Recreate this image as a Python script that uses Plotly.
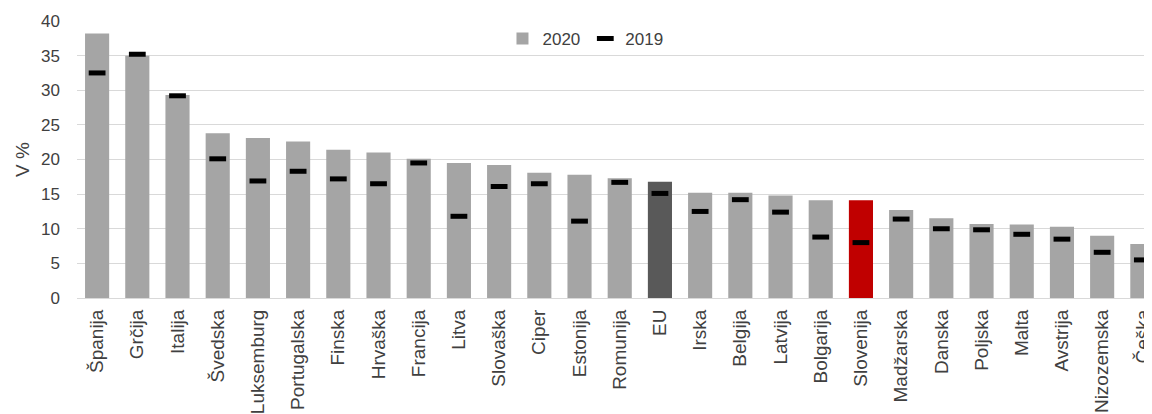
import plotly.graph_objects as go

countries = ["Španija", "Grčija", "Italija", "Švedska", "Luksemburg", "Portugalska", "Finska",
             "Hrvaška", "Francija", "Litva", "Slovaška", "Ciper", "Estonija", "Romunija", "EU",
             "Irska", "Belgija", "Latvija", "Bolgarija", "Slovenija", "Madžarska", "Danska",
             "Poljska", "Malta", "Avstrija", "Nizozemska", "Češka"]
values_2020 = [38.2, 35.0, 29.3, 23.8, 23.1, 22.6, 21.4, 21.0, 20.1, 19.5, 19.2, 18.1, 17.8,
               17.3, 16.8, 15.2, 15.2, 14.8, 14.1, 14.1, 12.7, 11.5, 10.7, 10.6, 10.3, 9.0, 7.8]
values_2019 = [32.5, 35.2, 29.2, 20.1, 16.9, 18.3, 17.2, 16.5, 19.5, 11.8, 16.1, 16.5, 11.1,
               16.7, 15.1, 12.5, 14.2, 12.4, 8.8, 8.0, 11.4, 10.0, 9.85, 9.2, 8.5, 6.6, 5.5]

GREY = "#A5A5A5"
bar_colors = ["#595959" if c == "EU" else "#C00000" if c == "Slovenija" else GREY for c in countries]

FONT = "Liberation Sans, Arial, sans-serif"
TXT = "#404040"
FS = 17

fig = go.Figure()
fig.add_trace(go.Bar(
    x=countries, y=values_2020, name="2020",
    marker=dict(color=bar_colors, line=dict(width=0)),
))
fig.add_trace(go.Scatter(
    x=countries, y=values_2019, name="2019", mode="markers",
    marker=dict(symbol="line-ew", size=12, color="black", line=dict(color="black", width=5)),
))

fig.update_layout(
    width=1144, height=406,
    margin=dict(l=69, r=0, t=13, b=116),
    paper_bgcolor="white", plot_bgcolor="white",
    font=dict(family=FONT, size=FS, color=TXT),
    bargap=0.4,
    showlegend=True,
    legend=dict(orientation="h", x=0.473, xanchor="center", y=0.935, yanchor="middle",
                font=dict(size=FS, color=TXT), bgcolor="rgba(0,0,0,0)",
                itemwidth=30, traceorder="normal"),
    xaxis=dict(
        range=[-0.5, 26.24], tickangle=-90, showgrid=False,
        showline=True, linecolor="#D9D9D9", linewidth=1,
        ticks="", ticklabelstandoff=3, ticklabeloverflow="allow",
        tickfont=dict(size=19, color=TXT, family=FONT),
        automargin=False, fixedrange=True,
    ),
    yaxis=dict(
        range=[0, 40], dtick=5, showgrid=True, gridcolor="#D9D9D9", gridwidth=1,
        zeroline=False, showline=False, ticks="", ticklabelstandoff=16,
        tickfont=dict(size=FS, color=TXT, family=FONT),
        title=dict(text="V %", font=dict(size=19, color=TXT, family=FONT), standoff=6),
        automargin=False, fixedrange=True,
    ),
)

fig.write_html("out.html")
